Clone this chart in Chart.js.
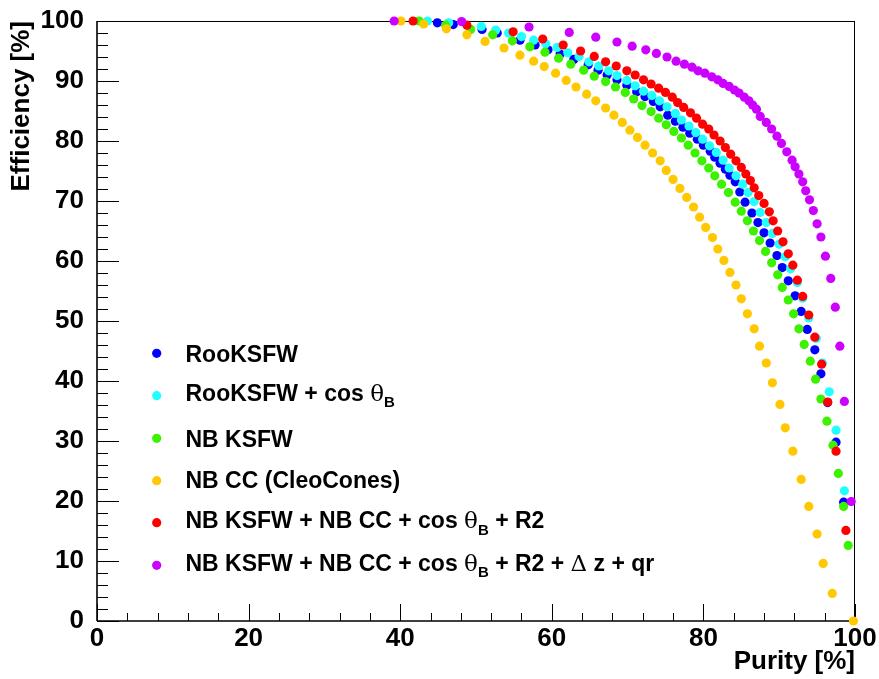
<!DOCTYPE html>
<html>
<head>
<meta charset="utf-8">
<script src="https://cdn.jsdelivr.net/npm/chart.js@4/dist/chart.umd.min.js"></script>
<style>
html,body{margin:0;padding:0;background:#fff;}
#wrap{width:879px;height:679px;position:relative;}
</style>
</head>
<body>
<div id="wrap"><canvas id="c" width="879" height="679"></canvas></div>
<script>
// ---------------- data ----------------
const xTicks = [0, 20, 40, 60, 80, 100];
const yTicks = [0, 10, 20, 30, 40, 50, 60, 70, 80, 90, 100];

const seriesNames = [
  "RooKSFW",
  "RooKSFW + cos \u03b8B",
  "NB KSFW",
  "NB CC (CleoCones)",
  "NB KSFW + NB CC + cos \u03b8B + R2",
  "NB KSFW + NB CC + cos \u03b8B + R2 + \u0394 z + qr"
];

const rooPurity = [44.9,47.0,50.8,52.8,55.8,57.8,59.5,61.1,62.9,64.8,66.1,67.3,68.6,69.9,71.2,72.3,73.4,74.3,75.3,76.3,77.3,78.2,79.2,80.0,80.9,81.5,82.2,82.9,83.5,84.2,84.8,85.5,86.4,87.2,88.0,88.8,89.7,90.4,91.2,92.1,92.9,93.7,94.7,95.5,96.4,97.5,98.5];
const rooEff    = [99.7,99.4,98.6,98.0,96.8,96.0,95.2,94.5,93.6,92.7,91.8,91.0,90.2,89.3,88.2,87.4,86.6,85.7,84.3,83.3,82.3,81.3,80.3,79.3,78.3,77.3,76.3,75.3,74.3,73.2,71.5,69.8,68.0,66.4,64.7,63.0,60.9,58.9,56.7,54.2,51.6,48.6,45.2,41.2,36.4,29.8,19.8];

const rooCosPurity = [43.6,46.4,50.7,52.6,54.3,56.0,57.6,59.2,60.7,62.1,63.6,64.9,66.2,67.5,68.6,69.9,71.0,72.1,73.2,74.2,75.2,76.3,77.1,78.1,79.0,79.9,80.8,81.7,82.6,83.4,84.3,85.2,85.9,86.7,87.5,88.3,89.1,90.0,90.8,91.5,92.4,93.1,93.9,94.9,95.7,96.6,97.5,98.6];
const rooCosEff    = [100,99.7,99.1,98.5,98.0,97.4,96.8,96.2,95.6,94.7,94.1,93.2,92.5,91.7,90.9,90.1,89.2,88.3,87.6,86.7,85.7,84.6,83.5,82.5,81.4,80.3,79.2,78.1,76.8,75.5,74.2,72.8,71.4,69.9,68.1,66.4,64.6,62.8,60.7,58.7,56.4,53.8,50.5,47.1,43.0,38.2,31.8,21.7];

const nbPurity = [42.5,46.0,49.3,52.2,54.8,57.1,59.1,60.9,62.5,64.2,65.6,67.1,68.4,69.7,70.8,71.9,73.1,74.1,75.1,76.1,77.1,78.0,78.9,79.8,80.7,81.5,82.4,83.3,84.2,85.0,85.8,86.6,87.4,88.2,89.0,89.8,90.4,91.2,91.9,92.6,93.3,94.1,94.8,95.5,96.3,97.1,97.8,98.5,99.1];
const nbEff    = [100,99.3,98.6,97.7,96.7,95.7,94.8,93.8,92.8,91.8,90.8,89.9,89.0,88.1,87.0,85.9,84.9,83.8,82.7,81.6,80.5,79.3,78.0,76.7,75.5,74.2,72.8,71.4,69.8,68.3,66.7,65.0,63.4,61.6,59.7,57.7,55.6,53.5,51.2,48.7,46.1,43.3,40.3,37.0,33.3,29.3,24.6,19.1,12.6];

const ccPurity = [40.1,43.1,46.1,48.8,51.2,53.7,55.8,57.6,59.0,60.5,61.9,63.2,64.6,65.8,67.1,68.2,69.3,70.3,71.3,72.3,73.3,74.3,75.1,76.0,76.9,77.8,78.7,79.5,80.3,81.2,81.9,82.7,83.5,84.3,85.0,85.8,86.7,87.4,88.3,89.1,90.1,90.8,91.8,92.9,93.9,95.0,95.8,97.0,99.8];
const ccEff    = [100,99.5,98.7,97.7,96.6,95.5,94.3,93.3,92.4,91.3,90.1,89.0,87.8,86.7,85.5,84.3,83.1,81.8,80.6,79.3,78.0,76.7,75.1,73.6,72.1,70.6,69.0,67.3,65.6,63.9,62.0,60.1,58.1,56.0,53.7,51.2,48.7,45.8,43.0,39.7,36.1,32.2,28.3,23.6,19.1,14.5,9.6,4.6,0];

const comboPurity = [41.7,48.8,54.9,58.8,61.5,63.8,65.6,67.1,68.5,69.9,71.0,72.1,73.1,74.1,75.0,75.9,76.6,77.4,78.3,79.1,79.9,80.7,81.4,82.2,82.9,83.6,84.3,85.0,85.6,86.2,86.7,87.3,88.0,88.7,89.2,89.8,90.5,91.2,91.8,92.4,93.1,93.9,94.7,95.6,96.4,97.5,98.8];
const comboEff    = [100,99.3,98.2,97.0,96.0,95.0,94.1,93.2,92.5,91.7,91.0,90.2,89.5,88.8,88.1,87.3,86.4,85.6,84.7,83.8,82.8,82.0,81.0,80.0,78.9,77.8,76.7,75.6,74.5,73.4,72.2,70.9,69.6,68.2,66.7,65.0,63.2,61.2,59.3,56.8,54.1,51.0,47.3,42.8,36.5,28.3,15.1];

const fullPurity = [39.2,48.1,57.0,62.3,65.8,68.6,70.6,72.4,73.8,75.2,76.4,77.5,78.5,79.3,80.2,81.1,81.9,82.6,83.4,84.1,84.7,85.4,86.0,86.5,87.0,87.5,88.3,89.0,89.7,90.3,91.0,91.7,92.1,92.6,93.1,93.5,94.0,94.5,95.0,95.5,96.1,96.8,97.4,98.0,98.6,99.5];
const fullEff    = [100,99.9,99.0,98.1,97.3,96.5,95.8,95.2,94.6,94.0,93.3,92.8,92.3,91.7,91.3,90.7,90.2,89.6,89.1,88.5,88.0,87.3,86.7,86.0,85.3,84.1,83.1,82.0,80.8,79.6,78.2,76.8,75.7,74.5,73.2,71.7,70.2,68.4,66.2,64.0,60.8,57.1,52.3,45.8,36.6,19.9];

// ---------------- styling ----------------
const colors = ["#0000ff", "#22ffff", "#3df200", "#ffc800", "#ff0000", "#cc00ff"];
const FONT = "'Liberation Sans', Arial, Helvetica, sans-serif";

const purities = [rooPurity, rooCosPurity, nbPurity, ccPurity, comboPurity, fullPurity];
const effs = [rooEff, rooCosEff, nbEff, ccEff, comboEff, fullEff];

const datasets = purities.map((px, i) => ({
  label: seriesNames[i],
  data: px.map((x, k) => ({ x: x, y: effs[i][k] })),
  backgroundColor: colors[i],
  borderWidth: 0,
  pointRadius: 4.6,
  pointHoverRadius: 4.6,
  clip: false,
  order: purities.length - i
}));

// frame + inward ROOT-style ticks
const framePlugin = {
  id: 'frame',
  beforeDatasetsDraw(chart) {
    const ctx = chart.ctx;
    const xs = chart.scales.x, ys = chart.scales.y;
    const { left, right, top, bottom } = chart.chartArea;
    ctx.save();
    ctx.strokeStyle = '#000';
    ctx.lineWidth = 1;
    ctx.beginPath();
    ctx.moveTo(left, top + 0.5); ctx.lineTo(right, top + 0.5);
    ctx.moveTo(right - 0.5, top); ctx.lineTo(right - 0.5, bottom);
    ctx.stroke();
    ctx.lineWidth = 1.6;
    ctx.beginPath();
    ctx.moveTo(left, bottom); ctx.lineTo(right + 1, bottom);
    ctx.moveTo(left, top); ctx.lineTo(left, bottom);
    ctx.stroke();
    ctx.lineWidth = 1;
    ctx.beginPath();
    for (let v = xs.min; v <= xs.max + 1e-9; v += 4) {
      const p = Math.round(xs.getPixelForValue(v)) + 0.5;
      const major = xTicks.includes(Math.round(v));
      ctx.moveTo(p, bottom);
      ctx.lineTo(p, bottom - (major ? 17 : 8));
    }
    for (let v = ys.min; v <= ys.max + 1e-9; v += 2) {
      const p = Math.round(ys.getPixelForValue(v)) + 0.5;
      const major = yTicks.includes(Math.round(v));
      ctx.moveTo(left, p);
      ctx.lineTo(left + (major ? 22 : 11), p);
    }
    ctx.stroke();
    ctx.restore();
  }
};

// legend with sub-scripts
const legendRows = [
  { dot: 353.3, base: 362.3, segs: [{ t: "RooKSFW" }] },
  { dot: 395.7, base: 401.0, segs: [{ t: "RooKSFW + cos " }, { t: "\u03b8", sym: true }, { t: "B", sub: true }] },
  { dot: 438.3, base: 446.7, segs: [{ t: "NB KSFW" }] },
  { dot: 480.7, base: 488.3, segs: [{ t: "NB CC (CleoCones)" }] },
  { dot: 522.7, base: 528.3, segs: [{ t: "NB KSFW + NB CC + cos " }, { t: "\u03b8", sym: true }, { t: "B", sub: true }, { t: " + R2" }] },
  { dot: 565.3, base: 570.7, segs: [{ t: "NB KSFW + NB CC + cos " }, { t: "\u03b8", sym: true }, { t: "B", sub: true }, { t: " + R2 + " }, { t: "\u0394", sym: true }, { t: " z + qr" }] }
];
const legendPlugin = {
  id: 'richLegend',
  afterDatasetsDraw(chart) {
    const ctx = chart.ctx;
    ctx.save();
    ctx.fillStyle = '#000';
    ctx.textBaseline = 'alphabetic';
    ctx.textAlign = 'left';
    legendRows.forEach((row, i) => {
      ctx.fillStyle = colors[i];
      ctx.beginPath();
      ctx.arc(156.7, row.dot, 4.6, 0, Math.PI * 2);
      ctx.fill();
      ctx.fillStyle = '#000';
      let x = 185.5;
      row.segs.forEach(s => {
        let dy = 0;
        if (s.sub) { ctx.font = "bold 15px " + FONT; dy = 6.3; }
        else if (s.sym) { ctx.font = "23px 'DejaVu Serif', 'Liberation Serif', serif"; }
        else { ctx.font = "bold 23px " + FONT; }
        ctx.fillText(s.t, x, row.base + dy);
        x += ctx.measureText(s.t).width;
      });
    });
    ctx.restore();
  }
};

new Chart(document.getElementById('c'), {
  type: 'scatter',
  data: { datasets: datasets },
  options: {
    responsive: false,
    animation: false,
    devicePixelRatio: 1,
    layout: { padding: { top: 21, right: 24, left: 0, bottom: 0 } },
    plugins: { legend: { display: false }, tooltip: { enabled: false } },
    events: [],
    scales: {
      x: {
        type: 'linear', position: 'bottom', min: 0, max: 100,
        afterBuildTicks: s => { s.ticks = xTicks.map(v => ({ value: v })); },
        afterFit: s => { s.height = 58; s.paddingLeft = 0; s.paddingRight = 0; },
        grid: { display: false, drawTicks: false },
        border: { display: false },
        ticks: { color: '#000', padding: 2, maxRotation: 0, autoSkip: false,
                 font: { family: FONT, size: 26, weight: 'bold' } },
        title: { display: true, text: 'Purity [%]', align: 'end', color: '#000',
                 padding: { top: 0, bottom: 2 },
                 font: { family: FONT, size: 26, weight: 'bold' } }
      },
      y: {
        type: 'linear', position: 'left', min: 0, max: 100,
        afterBuildTicks: s => { s.ticks = yTicks.map(v => ({ value: v })); },
        afterFit: s => { s.width = 97; s.paddingTop = 0; s.paddingBottom = 0; },
        grid: { display: false, drawTicks: false },
        border: { display: false },
        ticks: { color: '#000', padding: 13, autoSkip: false,
                 font: { family: FONT, size: 26, weight: 'bold' } },
        title: { display: true, text: 'Efficiency [%]', align: 'end', color: '#000',
                 padding: { top: 6, bottom: 0 },
                 font: { family: FONT, size: 26, weight: 'bold' } }
      }
    }
  },
  plugins: [framePlugin, legendPlugin]
});
</script>
</body>
</html>
